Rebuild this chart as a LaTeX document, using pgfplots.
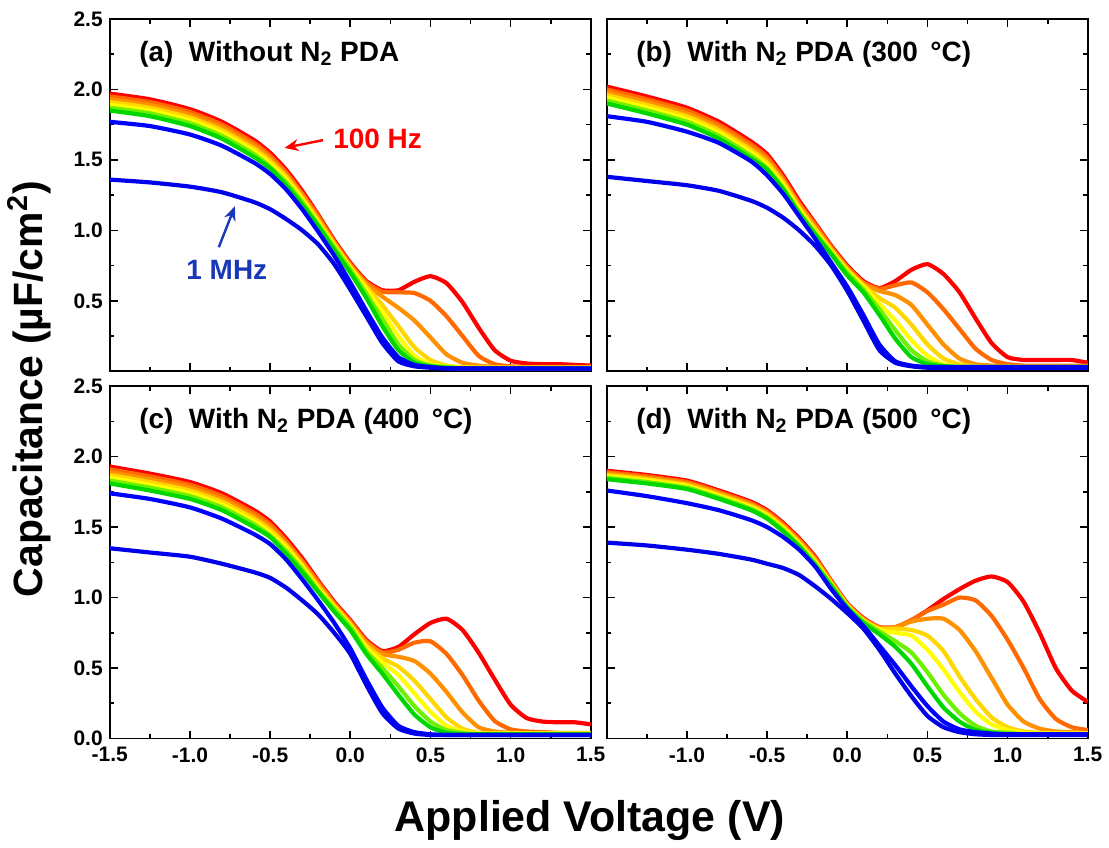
\documentclass[border=0pt]{standalone}
\usepackage{fontspec}
\setmainfont{Liberation Sans}
\usepackage{pgfplots}
\usepackage{pgfplotstable}
\pgfplotsset{compat=1.18}
\usepgfplotslibrary{groupplots}
\usetikzlibrary{arrows.meta}

\definecolor{c1}{RGB}{255,0,0}
\definecolor{c2}{RGB}{255,105,0}
\definecolor{c3}{RGB}{255,145,0}
\definecolor{c4}{RGB}{255,215,0}
\definecolor{c5}{RGB}{255,255,0}
\definecolor{c6}{RGB}{110,240,0}
\definecolor{c7}{RGB}{0,215,0}
\definecolor{c8}{RGB}{0,0,255}
\definecolor{c9}{RGB}{0,0,235}
\definecolor{mhz}{RGB}{25,55,185}

% C-V curves, 100 Hz (c1) ... 1 MHz (c9)
\pgfplotstableread{
x c1 c2 c3 c4 c5 c6 c7 c8 c9
-1.5  1.97 1.95 1.93 1.91 1.89 1.87 1.85 1.77 1.36
-1.25 1.93 1.91 1.89 1.87 1.85 1.83 1.81 1.74 1.34
-1.0  1.86 1.84 1.82 1.80 1.78 1.76 1.74 1.68 1.31
-0.8  1.77 1.75 1.73 1.71 1.69 1.67 1.65 1.60 1.27
-0.6  1.64 1.62 1.60 1.58 1.56 1.54 1.52 1.48 1.20
-0.5  1.55 1.53 1.51 1.49 1.47 1.45 1.44 1.40 1.15
-0.4  1.43 1.41 1.39 1.38 1.36 1.34 1.32 1.29 1.08
-0.3  1.28 1.26 1.25 1.23 1.22 1.20 1.18 1.15 1.00
-0.2  1.11 1.10 1.08 1.07 1.05 1.04 1.03 0.99 0.90
-0.1  0.93 0.92 0.91 0.90 0.89 0.88 0.86 0.82 0.76
0.0   0.77 0.76 0.75 0.74 0.73 0.72 0.70 0.63 0.58
0.1   0.64 0.63 0.62 0.60 0.58 0.55 0.52 0.43 0.39
0.2   0.575 0.565 0.53 0.47 0.42 0.37 0.32 0.24 0.20
0.3   0.575 0.56 0.45 0.32 0.25 0.19 0.15 0.10 0.07
0.4   0.635 0.555 0.36 0.17 0.11 0.08 0.06 0.045 0.035
0.5   0.675 0.50 0.24 0.08 0.05 0.04 0.035 0.03 0.025
0.6   0.625 0.39 0.12 0.04 0.035 0.03 0.025 0.02 0.02
0.7   0.49 0.25 0.06 0.03 0.025 0.02 0.02 0.02 0.02
0.8   0.31 0.11 0.04 0.025 0.025 0.02 0.02 0.02 0.02
0.9   0.15 0.05 0.03 0.025 0.025 0.02 0.02 0.02 0.02
1.0   0.075 0.035 0.025 0.025 0.025 0.02 0.02 0.02 0.02
1.1   0.055 0.03 0.025 0.025 0.025 0.02 0.02 0.02 0.02
1.2   0.05 0.03 0.025 0.025 0.025 0.02 0.02 0.02 0.02
1.3   0.05 0.03 0.025 0.025 0.025 0.02 0.02 0.02 0.02
1.4   0.045 0.03 0.025 0.025 0.025 0.02 0.02 0.02 0.02
1.5   0.04 0.03 0.025 0.025 0.025 0.02 0.02 0.02 0.02
}\tA

\pgfplotstableread{
x c1 c2 c3 c4 c5 c6 c7 c8 c9
-1.5  2.02 2.00 1.98 1.96 1.94 1.92 1.90 1.81 1.38
-1.25 1.95 1.93 1.91 1.89 1.87 1.85 1.83 1.77 1.35
-1.0  1.87 1.85 1.83 1.81 1.79 1.77 1.75 1.70 1.32
-0.8  1.77 1.75 1.73 1.71 1.69 1.67 1.65 1.62 1.28
-0.6  1.63 1.61 1.59 1.57 1.55 1.53 1.51 1.49 1.21
-0.5  1.54 1.52 1.50 1.48 1.46 1.44 1.43 1.39 1.16
-0.4  1.39 1.37 1.35 1.34 1.32 1.30 1.29 1.26 1.09
-0.3  1.21 1.19 1.18 1.16 1.15 1.13 1.12 1.10 1.00
-0.2  1.05 1.04 1.02 1.01 0.99 0.98 0.97 0.94 0.89
-0.1  0.89 0.88 0.87 0.86 0.85 0.84 0.83 0.77 0.75
0.0   0.75 0.74 0.73 0.72 0.71 0.70 0.68 0.60 0.57
0.1   0.64 0.63 0.62 0.61 0.60 0.58 0.56 0.40 0.36
0.2   0.59 0.585 0.57 0.52 0.48 0.44 0.40 0.19 0.15
0.3   0.64 0.61 0.54 0.45 0.36 0.29 0.23 0.07 0.06
0.4   0.72 0.63 0.47 0.33 0.22 0.15 0.10 0.04 0.035
0.5   0.76 0.56 0.33 0.19 0.11 0.07 0.05 0.03 0.025
0.6   0.69 0.44 0.19 0.09 0.05 0.04 0.035 0.03 0.025
0.7   0.56 0.30 0.09 0.05 0.035 0.03 0.03 0.03 0.025
0.8   0.375 0.16 0.05 0.035 0.03 0.03 0.03 0.03 0.025
0.9   0.20 0.08 0.04 0.03 0.03 0.03 0.03 0.03 0.025
1.0   0.10 0.05 0.035 0.03 0.03 0.03 0.03 0.03 0.025
1.1   0.08 0.04 0.035 0.03 0.03 0.03 0.03 0.03 0.025
1.2   0.08 0.04 0.035 0.03 0.03 0.03 0.03 0.03 0.025
1.3   0.08 0.04 0.035 0.03 0.03 0.03 0.03 0.03 0.025
1.4   0.08 0.04 0.035 0.03 0.03 0.03 0.03 0.03 0.025
1.5   0.06 0.04 0.035 0.03 0.03 0.03 0.03 0.03 0.025
}\tB

\pgfplotstableread{
x c1 c2 c3 c4 c5 c6 c7 c8 c9
-1.5  1.93 1.91 1.89 1.87 1.85 1.83 1.81 1.74 1.35
-1.25 1.88 1.86 1.84 1.82 1.80 1.78 1.76 1.70 1.32
-1.0  1.82 1.80 1.78 1.76 1.74 1.72 1.70 1.64 1.29
-0.8  1.74 1.72 1.70 1.68 1.66 1.64 1.62 1.56 1.24
-0.6  1.62 1.60 1.58 1.56 1.54 1.52 1.50 1.45 1.18
-0.5  1.54 1.52 1.50 1.48 1.46 1.44 1.43 1.38 1.14
-0.4  1.42 1.40 1.38 1.37 1.35 1.33 1.31 1.27 1.07
-0.3  1.28 1.26 1.25 1.23 1.22 1.20 1.18 1.13 0.98
-0.2  1.12 1.11 1.09 1.08 1.06 1.05 1.04 0.98 0.88
-0.1  0.97 0.96 0.95 0.94 0.93 0.92 0.90 0.82 0.75
0.0   0.84 0.83 0.82 0.81 0.80 0.79 0.77 0.64 0.60
0.1   0.70 0.69 0.68 0.66 0.64 0.62 0.60 0.42 0.38
0.2   0.62 0.61 0.60 0.57 0.54 0.50 0.46 0.22 0.18
0.3   0.65 0.63 0.58 0.51 0.45 0.37 0.31 0.09 0.07
0.4   0.74 0.68 0.55 0.41 0.32 0.23 0.17 0.045 0.035
0.5   0.82 0.69 0.46 0.28 0.19 0.12 0.08 0.03 0.025
0.6   0.85 0.60 0.33 0.15 0.09 0.06 0.04 0.025 0.025
0.7   0.77 0.45 0.185 0.07 0.05 0.04 0.03 0.025 0.025
0.8   0.61 0.27 0.08 0.04 0.035 0.03 0.03 0.025 0.025
0.9   0.42 0.125 0.05 0.035 0.035 0.03 0.03 0.025 0.025
1.0   0.24 0.065 0.04 0.035 0.035 0.03 0.03 0.025 0.025
1.1   0.145 0.05 0.035 0.035 0.035 0.03 0.03 0.025 0.025
1.2   0.12 0.045 0.035 0.035 0.035 0.03 0.03 0.025 0.025
1.3   0.115 0.04 0.035 0.035 0.035 0.03 0.03 0.025 0.025
1.4   0.115 0.04 0.035 0.035 0.035 0.03 0.03 0.025 0.025
1.5   0.10 0.04 0.035 0.035 0.035 0.03 0.03 0.025 0.025
}\tC

\pgfplotstableread{
x c1 c2 c3 c4 c5 c6 c7 c8 c9
-1.5  1.90 1.89 1.88 1.87 1.86 1.85 1.84 1.76 1.39
-1.25 1.87 1.86 1.85 1.84 1.83 1.82 1.81 1.72 1.37
-1.0  1.83 1.82 1.81 1.80 1.79 1.78 1.77 1.67 1.34
-0.8  1.76 1.75 1.74 1.73 1.72 1.71 1.70 1.62 1.31
-0.6  1.68 1.67 1.66 1.65 1.64 1.63 1.62 1.55 1.27
-0.5  1.62 1.61 1.60 1.59 1.58 1.57 1.56 1.50 1.24
-0.4  1.53 1.52 1.51 1.50 1.49 1.48 1.47 1.43 1.21
-0.3  1.42 1.41 1.40 1.39 1.38 1.37 1.36 1.34 1.16
-0.2  1.29 1.28 1.27 1.26 1.25 1.24 1.23 1.22 1.08
-0.1  1.12 1.115 1.11 1.10 1.095 1.09 1.08 1.06 0.99
0.0   0.96 0.955 0.95 0.945 0.94 0.935 0.93 0.92 0.89
0.1   0.855 0.85 0.845 0.84 0.835 0.83 0.82 0.80 0.78
0.2   0.79 0.79 0.785 0.78 0.77 0.76 0.74 0.66 0.63
0.3   0.79 0.79 0.79 0.78 0.75 0.69 0.65 0.52 0.46
0.4   0.84 0.84 0.83 0.77 0.73 0.61 0.53 0.37 0.30
0.5   0.91 0.905 0.85 0.73 0.63 0.47 0.37 0.23 0.16
0.6   0.99 0.95 0.85 0.62 0.49 0.31 0.22 0.12 0.08
0.7   1.06 1.00 0.77 0.44 0.33 0.18 0.12 0.065 0.045
0.8   1.12 0.98 0.62 0.28 0.19 0.09 0.06 0.045 0.03
0.9   1.15 0.87 0.43 0.15 0.10 0.05 0.04 0.035 0.025
1.0   1.11 0.70 0.24 0.08 0.06 0.04 0.03 0.03 0.025
1.1   0.97 0.50 0.12 0.05 0.04 0.03 0.03 0.03 0.025
1.2   0.75 0.28 0.07 0.04 0.035 0.03 0.03 0.03 0.025
1.3   0.50 0.14 0.05 0.035 0.035 0.03 0.03 0.03 0.025
1.4   0.34 0.08 0.045 0.035 0.035 0.03 0.03 0.03 0.025
1.5   0.26 0.06 0.04 0.035 0.035 0.03 0.03 0.03 0.025
}\tD

\newcommand{\curves}[1]{%
  \addplot[c1] table[x=x,y=c1]{#1};
  \addplot[c2] table[x=x,y=c2]{#1};
  \addplot[c3] table[x=x,y=c3]{#1};
  \addplot[c4] table[x=x,y=c4]{#1};
  \addplot[c5] table[x=x,y=c5]{#1};
  \addplot[c6] table[x=x,y=c6]{#1};
  \addplot[c7] table[x=x,y=c7]{#1};
  \addplot[c8] table[x=x,y=c8]{#1};
  \addplot[c9] table[x=x,y=c9]{#1};
}

\tikzset{ttl/.style={anchor=west, font=\bfseries\fontsize{14}{16}\selectfont}}

\begin{document}
\begin{tikzpicture}
\begin{groupplot}[
    group style={group size=2 by 2, horizontal sep=8pt, vertical sep=7.5pt},
    scale only axis, width=241pt, height=176.5pt,
    xmin=-1.5, xmax=1.5, ymin=0, ymax=2.5,
    xtick={-1.5,-1,-0.5,0,0.5,1,1.5},
    ytick={0,0.5,1,1.5,2,2.5},
    minor x tick num=1, minor y tick num=1,
    tick align=inside,
    major tick length=4pt, minor tick length=2.3pt,
    axis line style={line width=1pt},
    every tick/.style={black, line width=0.8pt},
    tick label style={font=\bfseries\fontsize{10.5}{12}\selectfont},
    xticklabel style={yshift=-1pt},
    every axis plot/.append style={line width=2.1pt, mark=none, line join=round, smooth, tension=0.35},
]
\nextgroupplot[xticklabels={}, yticklabels={,0.5,1.0,1.5,2.0,2.5}]
\curves{\tA}
\node[ttl] at (axis cs:-1.36,2.25) {(a)\ \ Without N\textsubscript{2} PDA};
\node[text=c1, font=\bfseries\fontsize{14}{16}\selectfont] at (axis cs:0.17,1.65) {100 Hz};
\draw[c1, line width=1.2pt, -{Stealth[length=7pt,width=6pt]}] (axis cs:-0.17,1.64) -- (axis cs:-0.41,1.585);
\node[text=mhz, font=\bfseries\fontsize{14}{16}\selectfont] at (axis cs:-0.77,0.72) {1 MHz};
\draw[mhz, line width=1.2pt, -{Stealth[length=7pt,width=6pt]}] (axis cs:-0.82,0.88) -- (axis cs:-0.72,1.17);

\nextgroupplot[xticklabels={}, yticklabels={}]
\curves{\tB}
\node[ttl] at (axis cs:-1.36,2.25) {(b)\ \ With N\textsubscript{2} PDA (300 \,°C)};

\nextgroupplot[xticklabels={-1.5,-1.0,-0.5,0.0,0.5,1.0,1.5}, yticklabels={0.0,0.5,1.0,1.5,2.0,2.5}]
\curves{\tC}
\node[ttl] at (axis cs:-1.36,2.25) {(c)\ \ With N\textsubscript{2} PDA (400 \,°C)};

\nextgroupplot[xticklabels={,-1.0,-0.5,0.0,0.5,1.0,1.5}, yticklabels={}]
\curves{\tD}
\node[ttl] at (axis cs:-1.36,2.25) {(d)\ \ With N\textsubscript{2} PDA (500 \,°C)};
\end{groupplot}

\node[rotate=90, anchor=base, font=\bfseries\fontsize{20.5}{24}\selectfont]
  at ([shift={(-33.5pt,175pt)}]group c1r2.south west) {Capacitance (µF/cm\textsuperscript{2})};
\node[anchor=base, font=\bfseries\fontsize{21.5}{25}\selectfont]
  at ([shift={(240.5pt,-46.5pt)}]group c1r2.south west) {Applied Voltage (V)};

\path ([shift={(-55pt,-53.5pt)}]group c1r2.south west);
\path ([shift={(9.5pt,9.5pt)}]group c2r1.north east);
\end{tikzpicture}
\end{document}
